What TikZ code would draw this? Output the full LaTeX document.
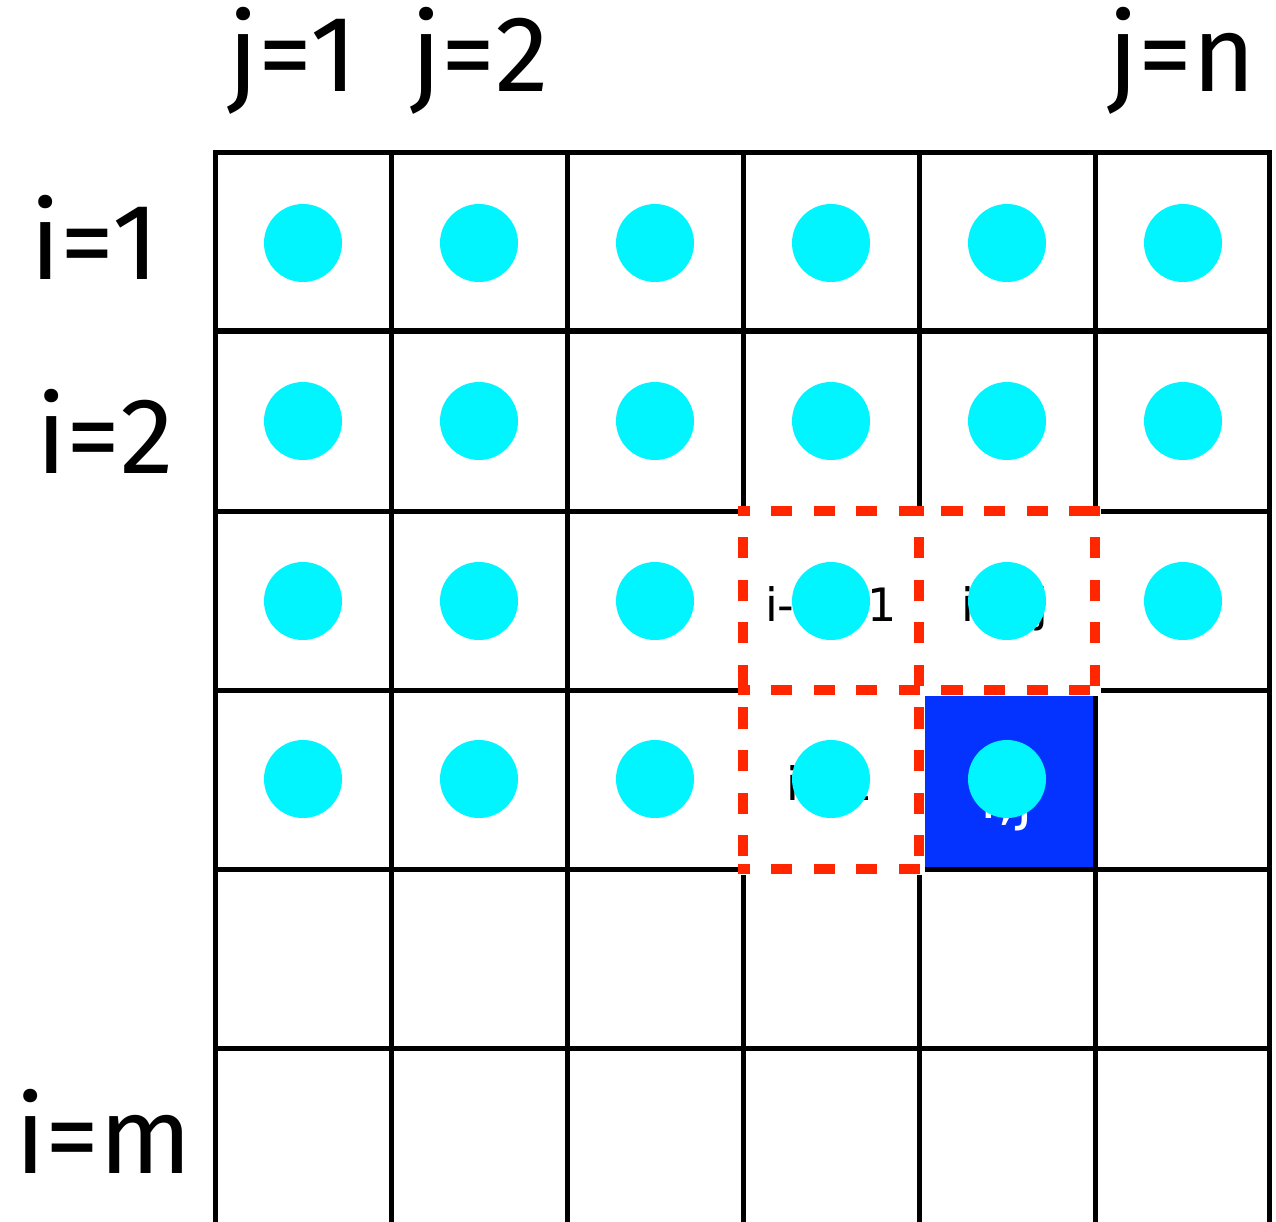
\documentclass[tikz,border=0pt]{standalone}
\usepackage{fontspec}
\setmainfont{Fira Sans}
\newfontfamily\bigfont{Fira Sans}
\newfontfamily\smallfont{DejaVu Sans}
\definecolor{dotcyan}{RGB}{0,245,255}
\definecolor{cellblue}{RGB}{4,51,255}
\definecolor{dashred}{RGB}{255,38,0}
\begin{document}
\begin{tikzpicture}[x=1pt,y=-1pt,
  gridline/.style={line width=5pt,black},
  cover/.style={line width=11pt,white},
  reddash/.style={line width=10pt,dashred,dash pattern=on 21.2pt off 21.4pt},
  hdash/.style={reddash,dash phase=9.7pt},
  vdash/.style={reddash,dash phase=11.6pt},
  dot/.style={circle,fill=dotcyan,minimum size=78pt,inner sep=0pt},
  biglabel/.style={font=\bigfont\fontsize{108}{130}\selectfont,inner sep=0pt,anchor=base},
  smalllabel/.style={font=\smallfont\fontsize{46}{55}\selectfont,inner sep=0pt,anchor=base}]
\useasboundingbox (0,0) rectangle (1276,1222);
% blue cell
\fill[cellblue] (919,690) rectangle (1095,869);
% grid
\foreach \x in {215.5,391,567,743,919,1095,1269.5}
  \draw[gridline] (\x,150.5) -- (\x,1222);
\foreach \y in {153,331,511,690,869,1048}
  \draw[gridline] (213,\y) -- (1272,\y);
% dashed red boxes: white underlay, then dashes
\foreach \y/\xe in {511/1100,690/1100,869/924}
  \draw[cover] (738,\y) -- (\xe,\y);
\foreach \x/\ye in {743/874,919/874,1095/695}
  \draw[cover] (\x,506) -- (\x,\ye);
\foreach \y/\xe in {511/1100,690/1100,869/924}
  \draw[hdash] (738,\y) -- (\xe,\y);
\foreach \x/\ye in {743/874,919/874,1095/695}
  \draw[vdash] (\x,506) -- (\x,\ye);
% small labels
\node[smalllabel] (l1) at (831,621) {i-1,j-1};
\node[smalllabel] (l2) at (1005,621) {i-1,j};
\node[smalllabel] (l3) at (830,800) {i,j-1};
\node[smalllabel,text=white,font=\smallfont\fontsize{60}{70}\selectfont] (l4) at (1007,818) {i,j};
% dots
\foreach \r/\yy in {1/243,2/421,3/601}
  \foreach \c/\xx in {1/303,2/479,3/655,4/831,5/1007,6/1183}
    \node[dot] (d\r\c) at (\xx,\yy) {};
\foreach \c/\xx in {1/303,2/479,3/655,4/831,5/1007}
  \node[dot] (d4\c) at (\xx,779) {};
% big labels
\node[biglabel] (j1) at (293,92) {j=1};
\node[biglabel] (j2) at (480,92) {j=2};
\node[biglabel] (jn) at (1182,92) {j=n};
\node[biglabel] (i1) at (95,280) {i=1};
\node[biglabel] (i2) at (105,473) {i=2};
\node[biglabel] (im) at (104,1173) {i=m};
\end{tikzpicture}
\end{document}
